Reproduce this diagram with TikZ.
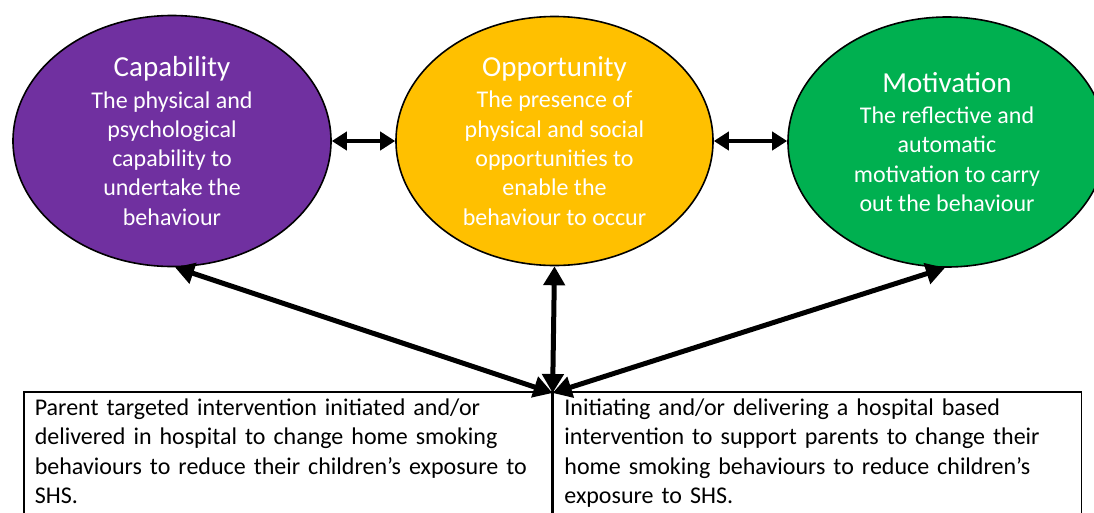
\documentclass[tikz,border=0pt]{standalone}
\usepackage{fontspec}
\setmainfont{Carlito}
\usetikzlibrary{arrows.meta,shapes.geometric}
\definecolor{amethyst}{RGB}{112, 48, 160}
\definecolor{sunflower}{RGB}{255, 192, 0}
\definecolor{emerald}{RGB}{0, 176, 80}

\newcommand{\combtitle}[1]{{\fontsize{29}{32}\selectfont #1}\\[2pt]}

\tikzset{
  comb/.style={ellipse, draw=black, line width=1.6pt, text=white, align=center,
    minimum width=318pt, minimum height=251pt, inner sep=0pt,
    font=\fontsize{24}{29.3}\selectfont},
  intbox/.style={rectangle, draw=black, line width=1.6pt, anchor=north west,
    align=left, text width=506pt, inner xsep=11pt, inner ysep=7pt, text depth=140pt,
    font=\fontsize{24}{29.3}\selectfont},
  sidelink/.style={line width=4pt, {Triangle[length=15pt,width=18pt]}-{Triangle[length=15pt,width=18pt]}},
  hublink/.style={line width=5pt, {Triangle[length=19pt,width=21pt]}-{Triangle[length=19pt,width=21pt]}}
}

\begin{document}
\begin{tikzpicture}[x=1pt, y=-1pt]
  \useasboundingbox (0,0) rectangle (1094,512);
  \clip (0,0) rectangle (1094,512);

  % COM-B components
  \node[comb, fill=amethyst] (cap) at (172,141)
    {\combtitle{Capability}The physical and\\psychological\\capability to\\undertake the\\behaviour};
  \node[comb, fill=sunflower, minimum width=317pt, minimum height=249pt] (opp) at (554.5,141)
    {\combtitle{Opportunity}The presence of\\physical and social\\opportunities to\\enable the\\behaviour to occur};
  \node[comb, fill=emerald, minimum height=250pt] (mot) at (947,142)
    {\combtitle{Motivation}The reflective and\\automatic\\motivation to carry\\out the behaviour};

  % intervention boxes
  \node[intbox] (parent) at (23,391)
    {Parent targeted intervention initiated and/or\\delivered in hospital to change home smoking\\behaviours to reduce their children’s exposure to\\SHS.};
  \node[intbox] (hospital) at (parent.north east)
    {Initiating and/or delivering a hospital based\\intervention to support parents to change their\\home smoking behaviours to reduce children’s\\exposure to SHS.};
  \coordinate (hub) at ([yshift=-2pt]parent.north east);

  \draw[sidelink] (cap.east) -- (cap.east -| opp.west);
  \draw[sidelink] (opp.east) -- (opp.east -| mot.west);
  \draw[hublink] ([xshift=3pt]cap.south) -- (hub);
  \draw[hublink] (opp.south) -- (hub);
  \draw[hublink] ([xshift=-2pt]mot.south) -- (hub);
\end{tikzpicture}
\end{document}
